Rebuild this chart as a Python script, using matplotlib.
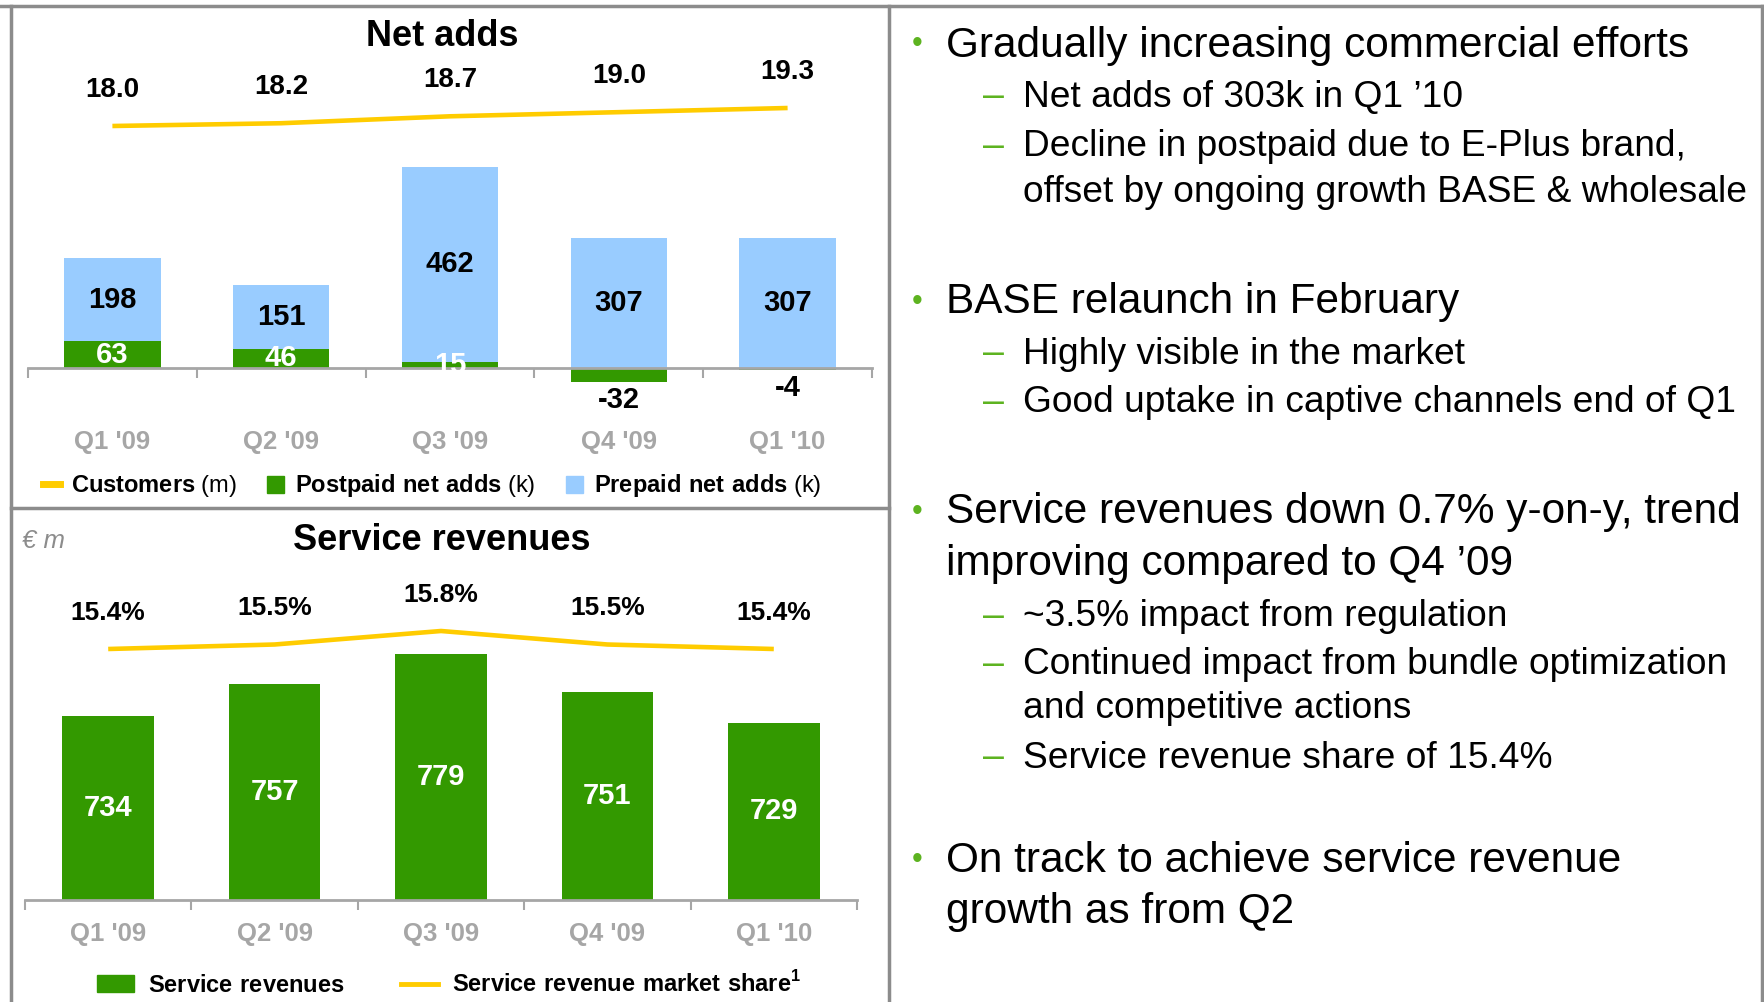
import numpy as np
import matplotlib
matplotlib.use('Agg')
from matplotlib import pyplot as plt
from matplotlib.lines import Line2D
from matplotlib.patches import Patch

plt.rcParams['font.family'] = ['Liberation Sans', 'DejaVu Sans']
plt.rcParams['mathtext.fontset'] = 'custom'
plt.rcParams['mathtext.rm'] = 'Liberation Sans'
plt.rcParams['mathtext.bf'] = 'Liberation Sans:bold'

# ---- data ----
quarters = ["Q1 '09", "Q2 '09", "Q3 '09", "Q4 '09", "Q1 '10"]
customers_m = [18.0, 18.2, 18.7, 19.0, 19.3]
postpaid_k = [63, 46, 15, -32, -4]
prepaid_k = [198, 151, 462, 307, 307]
service_rev = [734, 757, 779, 751, 729]
market_share = [15.4, 15.5, 15.8, 15.5, 15.4]

notes = [
    ('b', "Gradually increasing commercial efforts"),
    ('d', "Net adds of 303k in Q1 \u201910"),
    ('d', "Decline in postpaid due to E-Plus brand,"),
    ('dc', "offset by ongoing growth BASE & wholesale"),
    ('b', "BASE relaunch in February"),
    ('d', "Highly visible in the market"),
    ('d', "Good uptake in captive channels end of Q1"),
    ('b', "Service revenues down 0.7% y-on-y, trend"),
    ('bc', "improving compared to Q4 \u201909"),
    ('d', "~3.5% impact from regulation"),
    ('d', "Continued impact from bundle optimization"),
    ('dc', "and competitive actions"),
    ('d', "Service revenue share of 15.4%"),
    ('b', "On track to achieve service revenue"),
    ('bc', "growth as from Q2"),
]

GREEN = '#339900'
BLUE = '#99CCFF'
YELLOW = '#FFCC00'
GREY = '#A6A6A6'
FRAME = '#8C8C8C'
BULLET = '#5DB320'

W, H = 1764, 1002
fig = plt.figure(figsize=(W / 100, H / 100), dpi=100)


def px_axes(x0, y0, x1, y1):
    return fig.add_axes([x0 / W, 1 - y1 / H, (x1 - x0) / W, (y1 - y0) / H])


def fig_line(x0, y0, x1, y1):
    fig.add_artist(Line2D([x0 / W, x1 / W], [1 - y0 / H, 1 - y1 / H],
                          color=FRAME, lw=2.5, transform=fig.transFigure))


def style_axis(ax, pad):
    for s in ['top', 'right', 'left']:
        ax.spines[s].set_visible(False)
    ax.spines['bottom'].set_color(GREY)
    ax.spines['bottom'].set_linewidth(2)
    ax.set_xlim(-0.5, 4.5)
    ax.set_yticks([])
    ax.set_xticks(np.arange(5), quarters)
    ax.set_xticks(np.arange(-0.5, 5, 1), minor=True)
    ax.tick_params(axis='x', which='major', length=0, pad=pad,
                   labelsize=18.5, labelcolor=GREY)
    ax.tick_params(axis='x', which='minor', length=7, width=1.5, color=GREY)
    for t in ax.get_xticklabels():
        t.set_fontweight('bold')


def clean_twin(ax):
    for s in ax.spines.values():
        s.set_visible(False)
    ax.set_yticks([])


x = np.arange(len(quarters))

# ---- top chart: net adds ----
top, bot, base, k = 60, 400, 368, 0.422
ax1 = px_axes(28, top, 872, bot)
post = np.array(postpaid_k)
pre = np.array(prepaid_k)
pre_bottom = np.maximum(post, 0)
ax1.bar(x, post, width=0.57, color=GREEN)
ax1.bar(x, pre, bottom=pre_bottom, width=0.57, color=BLUE)
ax1.set_ylim(-(bot - base) / k, (base - top) / k)
ax1.spines['bottom'].set_position(('data', 0))
style_axis(ax1, 45)
for i in x:
    ax1.text(i, pre_bottom[i] + pre[i] / 2, str(pre[i]), ha='center',
             va='center', fontsize=21, fontweight='bold')
    if post[i] > 0:
        ax1.text(i, post[i] / 2, str(post[i]), ha='center', va='center',
                 fontsize=21, fontweight='bold', color='white')
    else:
        ax1.annotate(str(post[i]), (i, post[i]), xytext=(0, -3),
                     textcoords='offset points', ha='center', va='top',
                     fontsize=21, fontweight='bold')

ax1b = ax1.twinx()
ax1b.plot(x, customers_m, color=YELLOW, lw=3.3, solid_capstyle='butt')
ax1b.set_ylim(18.0 - (bot - 126) / 13.85, 18.0 + (126 - top) / 13.85)
clean_twin(ax1b)
for i, v in enumerate(customers_m):
    ax1b.annotate(f"{v:.1f}", (i, v), xytext=(0, 26), textcoords='offset points',
                  ha='center', va='center', fontsize=20, fontweight='bold')

fig.text(442 / W, 1 - 37 / H, "Net adds", ha='center', va='center',
         fontsize=26, fontweight='bold')

fig.legend(
    [Line2D([], [], color=YELLOW, lw=5),
     Patch(color=GREEN), Patch(color=BLUE)],
    [r"$\mathbf{Customers}$ (m)", r"$\mathbf{Postpaid\ net\ adds}$ (k)",
     r"$\mathbf{Prepaid\ net\ adds}$ (k)"],
    loc='center left', bbox_to_anchor=(43 / W, 1 - 486 / H), ncol=3,
    frameon=False, fontsize=17, handlelength=0.72, handleheight=0.72,
    handletextpad=0.45, columnspacing=1.3, borderpad=0, borderaxespad=0)

# ---- bottom chart: service revenues ----
top2, bot2, r0, k2 = 560, 900, 600, 1.375
ax2 = px_axes(25, top2, 857, bot2)
ax2.bar(x, service_rev, width=0.55, color=GREEN)
ax2.set_ylim(r0, r0 + (bot2 - top2) / k2)
style_axis(ax2, 15.5)
for i, v in enumerate(service_rev):
    ax2.text(i, (r0 + v) / 2, str(v), ha='center', va='center', fontsize=21,
             fontweight='bold', color='white')

ax2b = ax2.twinx()
ax2b.plot(x, market_share, color=YELLOW, lw=3.3, solid_capstyle='butt')
ax2b.set_ylim(15.4 - (bot2 - 649) / 45, 15.4 + (649 - top2) / 45)
clean_twin(ax2b)
for i, v in enumerate(market_share):
    ax2b.annotate(f"{v:.1f}%", (i, v), xytext=(0, 26), textcoords='offset points',
                  ha='center', va='center', fontsize=19, fontweight='bold')

fig.text(442 / W, 1 - 541 / H, "Service revenues", ha='center', va='center',
         fontsize=26, fontweight='bold')
fig.text(22 / W, 1 - 541 / H, "\u20ac m", ha='left', va='center', fontsize=18.5,
         style='italic', color='#8C8C8C')

fig.legend(
    [Patch(color=GREEN), Line2D([], [], color=YELLOW, lw=3.5)],
    [r"$\mathbf{Service\ revenues}$", r"$\mathbf{Service\ revenue\ market\ share}^\mathbf{1}$"],
    loc='center left', bbox_to_anchor=(97 / W, 1 - 984 / H), ncol=2,
    frameon=False, fontsize=17, handlelength=1.55, handleheight=0.7,
    handletextpad=0.6, columnspacing=2.4, borderpad=0, borderaxespad=0)

# ---- right text panel ----
row_y = [41, 93, 143, 188, 298, 350, 399, 508, 559, 613, 661, 705, 754, 857, 907]
for (kind, txt), y in zip(notes, row_y):
    yf = 1 - y / H
    if kind.startswith('b'):
        if kind == 'b':
            fig.text(912 / W, yf, "\u2022", ha='left', va='center_baseline',
                     fontsize=22, color=BULLET)
        fig.text(946 / W, yf, txt, ha='left', va='center_baseline', fontsize=30.5)
    else:
        if kind == 'd':
            fig.text(983 / W, yf, "\u2013", ha='left', va='center_baseline',
                     fontsize=27, color=BULLET)
        fig.text(1023 / W, yf, txt, ha='left', va='center_baseline', fontsize=26.7)

# ---- frame ----
fig_line(0, 6, W, 6)
fig_line(11, 6, 11, H)
fig_line(889, 6, 889, H)
fig_line(11, 508, 889, 508)
fig_line(W - 2, 6, W - 2, H)

fig.savefig('out.png', dpi=100)
